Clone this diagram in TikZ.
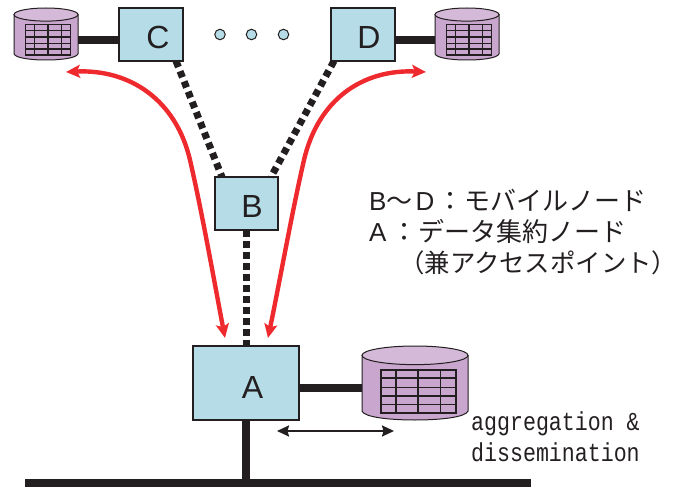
\documentclass[tikz,border=0pt]{standalone}
\usepackage{fontspec}
\usepackage{graphicx}
\setmainfont{Liberation Sans}
\newfontfamily\jpfont{Noto Sans CJK JP}
\newfontfamily\gothmono{Liberation Mono}
\usetikzlibrary{arrows.meta}
\definecolor{boxblue}{HTML}{B5DCE7}
\definecolor{cylside}{HTML}{C9A6CE}
\definecolor{cyltop}{HTML}{D5B9D9}
\definecolor{inkblack}{HTML}{231F20}
\definecolor{redline}{HTML}{EE2A2E}
\tikzset{
  x=1pt,y=-1pt,
  nodebox/.style={draw=inkblack,line width=1.5pt,fill=boxblue,minimum width=#1,inner sep=0pt},
  lettertext/.style={inner sep=0pt,text=inkblack,font=\fontsize{32}{32}\selectfont},
  solidlink/.style={draw=inkblack,line width=8pt},
  dotlink/.style={draw=inkblack,line width=7pt,dash pattern=on 6.5pt off 4.5pt},
  redarrow/.style={draw=redline,line width=4.4pt,{Stealth[length=14pt,width=13pt,inset=3pt]}-{Stealth[length=14pt,width=13pt,inset=3pt]}},
  smalldot/.style={circle,draw=inkblack,line width=1pt,fill=boxblue,minimum size=10.5pt,inner sep=0pt},
  labeltext/.style={anchor=base west,inner sep=0pt,text=inkblack,font=\fontsize{26}{26}\selectfont},
  labelthird/.style={anchor=base west,inner sep=0pt,text=inkblack,font=\fontsize{25.4}{25.4}\selectfont},
  monotext/.style={anchor=base west,inner sep=0pt,text=inkblack,font=\gothmono\fontsize{21.6}{21.6}\selectfont},
}
% #1 left, #2 top, #3 width, #4 height, #5 grid line width
\newcommand{\dbcyl}[5]{%
  \begin{scope}[shift={(#1,#2)},x=#3pt,y=-#4pt]
    \path[draw=inkblack,line width=1pt,fill=cylside]
      (0,0.126) -- (0,0.88) .. controls (0.02,0.96) and (0.25,1) .. (0.5,1)
      .. controls (0.75,1) and (0.98,0.96) .. (1,0.88) -- (1,0.126) -- cycle;
    \path[draw=inkblack,line width=1pt,fill=cyltop]
      (0.5,0.126) ellipse [x radius=0.5,y radius=0.126];
    \draw[inkblack,line width=#5pt] (0.18,0.32) rectangle (0.885,0.905);
    \foreach \q in {0.43,0.56,0.68,0.79} \draw[inkblack,line width=#5pt] (0.18,\q) -- (0.885,\q);
    \foreach \q in {0.32,0.53,0.74} \draw[inkblack,line width=#5pt] (\q,0.32) -- (\q,0.905);
  \end{scope}}
\begin{document}
\begin{tikzpicture}
\useasboundingbox (0,0) rectangle (681,487);

% bus
\coordinate (busl) at (25,483);
\coordinate (busr) at (531,483);
\coordinate (busj) at (246,483);
\draw[inkblack,line width=8pt] (busl) -- (busr);

% cylinders
\dbcyl{14}{8}{64}{52}{1.4}
\dbcyl{435}{8}{64}{52}{1.4}
\dbcyl{362}{346}{106}{74}{1.7}

\coordinate (dbc) at (78,40);
\coordinate (dbd) at (435,40);
\coordinate (dba) at (362,388);

% boxes
\node[nodebox=64pt,minimum height=53pt] (C) at (151,34.5) {};
\node[nodebox=64pt,minimum height=53pt] (D) at (363,34.5) {};
\node[nodebox=63pt,minimum height=53pt] (B) at (246.5,203.5) {};
\node[nodebox=106pt,minimum height=74pt] (A) at (246,383) {};
\node[lettertext] (lc) at ([shift={(7,2.5)}]C.center) {C};
\node[lettertext] (ld) at ([shift={(6,2.5)}]D.center) {D};
\node[lettertext] (lb) at ([shift={(5.5,3)}]B.center) {B};
\node[lettertext] (la) at ([shift={(6.5,4)}]A.center) {A};

% solid links
\draw[solidlink] (dbc) -- (C.west |- dbc);
\draw[solidlink] (D.east |- dbd) -- (dbd);
\draw[solidlink] (A.east |- dba) -- (dba);
\draw[solidlink] (A.south -| busj) -- (busj);

% dotted links
\coordinate (cout) at (176,61);
\coordinate (bin1) at (222,177);
\coordinate (dout) at (334,61);
\coordinate (bin2) at (271,177);
\coordinate (bout) at (246,230);
\coordinate (ain) at (246,346);
\draw[dotlink] (cout) -- (bin1);
\draw[dotlink] (dout) -- (bin2);
\draw[dotlink] (bout) -- (ain);

% ellipsis dots
\node[smalldot] (d1) at (220,34.5) {};
\node[smalldot] (d2) at (251.5,34.5) {};
\node[smalldot] (d3) at (283.5,34.5) {};

% red arrows
\coordinate (rl) at (66,72);
\coordinate (rla) at (225,338);
\coordinate (rr) at (426,72);
\coordinate (rra) at (268,338);
\draw[redarrow] (rl) .. controls (130,69) and (176,100) .. (190,160) .. controls (202,212) and (214,280) .. (rla);
\draw[redarrow] (rr) .. controls (362,69) and (318,100) .. (304,160) .. controls (292,212) and (280,280) .. (rra);

% short double arrow
\coordinate (sl) at (277,431);
\coordinate (sr) at (394,431);
\draw[inkblack,line width=2pt,{Stealth[length=12pt,width=11pt,inset=1.5pt]}-{Stealth[length=12pt,width=11pt,inset=1.5pt]}] (sl) -- (sr);

% texts
\node[labeltext] (t1) at (369,210) {B\jpfont ～\rmfamily\hspace{3pt}D\hspace{3pt}\jpfont：\hspace{1pt}モバイルノード};
\node[labeltext] (t2) at (369,241) {A\hspace{5pt}\jpfont：\hspace{1pt}データ集約ノード};
\node[labelthird] (t3) at (399,272) {\jpfont （兼アクセスポイント）};
\node[monotext] (t4) at (471,430) {\scalebox{1}[1.2]{aggregation \&}};
\node[monotext] (t5) at (471,461) {\scalebox{1}[1.2]{dissemination}};
\end{tikzpicture}
\end{document}
